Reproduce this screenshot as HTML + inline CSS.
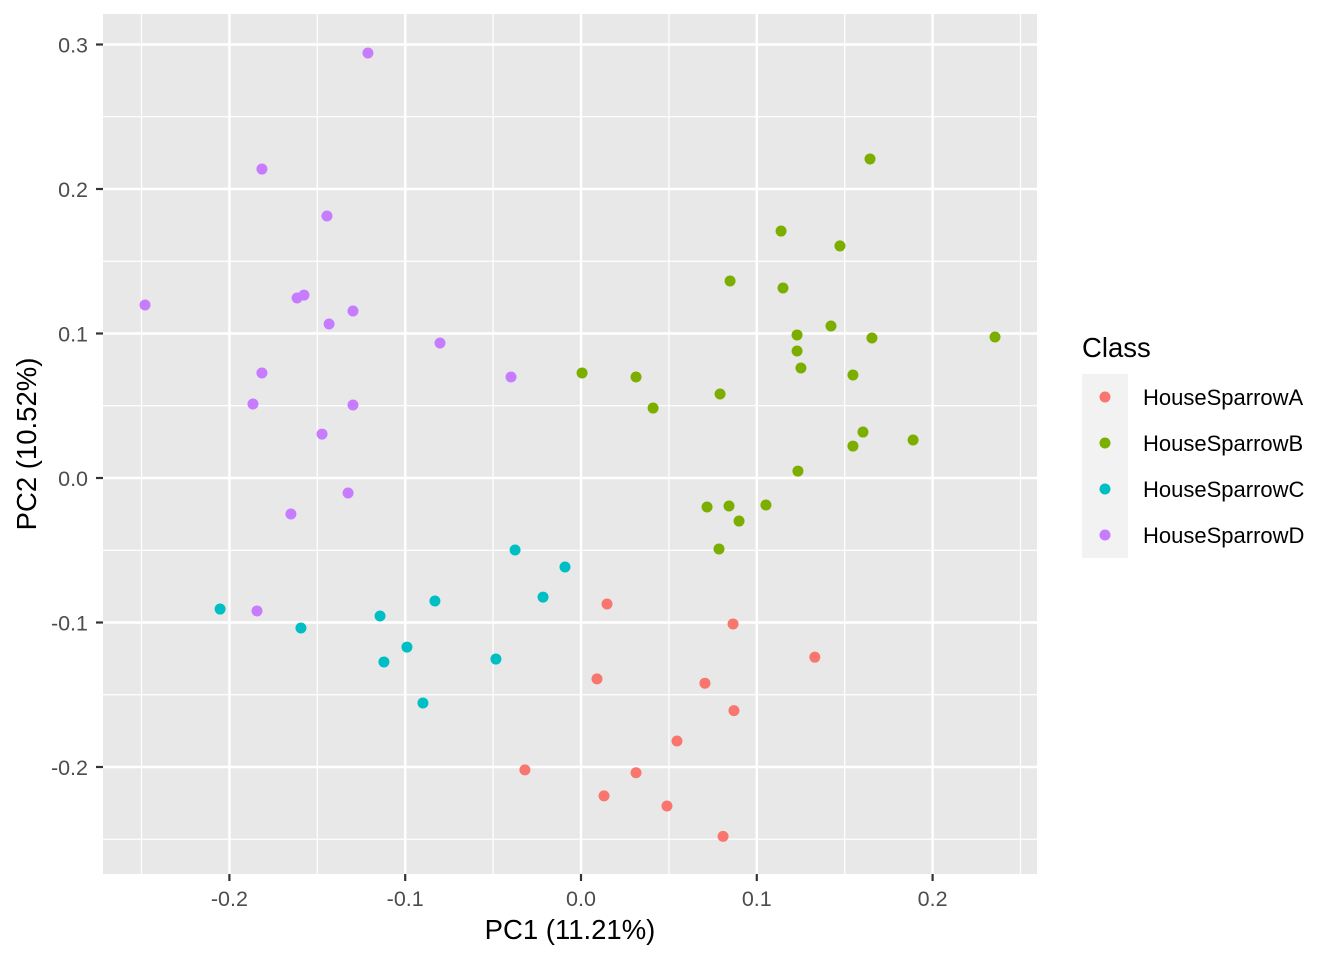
<!DOCTYPE html>
<html><head><meta charset="utf-8"><style>
body{margin:0;background:#fff;}
svg{display:block;font-family:"Liberation Sans",Arial,sans-serif;}
</style></head><body>
<svg id="chart" width="1344" height="960"></svg>
<script>
const classes=["HouseSparrowA","HouseSparrowB","HouseSparrowC","HouseSparrowD"];
const colors=["#F8766D","#7CAE00","#00BFC4","#C77CFF"];
const aX=[0.0148,0.0865,0.133,0.0091,0.0705,0.087,0.0546,-0.0319,0.0313,0.0131,0.0489,0.0808];
const aY=[-0.0872,-0.101,-0.124,-0.139,-0.142,-0.161,-0.182,-0.202,-0.204,-0.220,-0.227,-0.248];
const bX=[0.1644,0.1138,0.1473,0.0848,0.1149,0.1422,0.1229,0.1655,0.2355,0.1229,0.1251,0.0006,0.0313,0.1547,0.0791,0.041,0.1604,0.1889,0.1547,0.1234,0.0717,0.0842,0.1052,0.0899,0.0785];
const bY=[0.2208,0.1709,0.1606,0.1363,0.1315,0.1052,0.0990,0.0969,0.0976,0.0879,0.0761,0.0727,0.0699,0.0713,0.0581,0.0484,0.0318,0.0263,0.0221,0.0048,-0.0201,-0.0194,-0.0187,-0.0298,-0.0491];
const cX=[-0.0375,-0.0091,-0.0216,-0.0831,-0.2053,-0.1143,-0.1593,-0.099,-0.1121,-0.0484,-0.0899];
const cY=[-0.0498,-0.0616,-0.0824,-0.0851,-0.0907,-0.0955,-0.1038,-0.117,-0.1273,-0.1253,-0.1557];
const dX=[-0.1212,-0.1815,-0.1445,-0.248,-0.1576,-0.1615,-0.1297,-0.1433,-0.0802,-0.0398,-0.1815,-0.1866,-0.1297,-0.1473,-0.1325,-0.165,-0.1843];
const dY=[0.2941,0.2138,0.1813,0.1197,0.1266,0.1246,0.1156,0.1066,0.0934,0.0699,0.0727,0.0512,0.0505,0.0304,-0.0104,-0.0249,-0.092];
const xTicks=[-0.2,-0.1,0.0,0.1,0.2];
const xTickLabels=["-0.2","-0.1","0.0","0.1","0.2"];
const yTicks=[0.3,0.2,0.1,0.0,-0.1,-0.2];
const yTickLabels=["0.3","0.2","0.1","0.0","-0.1","-0.2"];
const xMinor=[-0.25,-0.15,-0.05,0.05,0.15,0.25];
const yMinor=[0.25,0.15,0.05,-0.05,-0.15,-0.25];

const svg=document.getElementById('chart');
const NS="http://www.w3.org/2000/svg";
const L=103,R=1037,T=14,B=874;
const sx=v=>581+v*1758;
const sy=v=>478-v*1445;
function mk(tag,attrs,parent){const e=document.createElementNS(NS,tag);for(const k in attrs)e.setAttribute(k,attrs[k]);(parent||svg).appendChild(e);return e;}

const panel=mk('rect',{x:L,y:T,width:R-L,height:B-T,fill:'#E8E8E8'});


xMinor.forEach(v=>{const l=mk('line',{x1:sx(v),x2:sx(v),y1:T,y2:B,stroke:'#fff','stroke-width':1.2});

});
yMinor.forEach(v=>{const l=mk('line',{x1:L,x2:R,y1:sy(v),y2:sy(v),stroke:'#fff','stroke-width':1.2});

});
xTicks.forEach((v,i)=>{
 const l=mk('line',{x1:sx(v),x2:sx(v),y1:T,y2:B,stroke:'#fff','stroke-width':2.4});
 
 
 const t=mk('line',{x1:sx(v),x2:sx(v),y1:B,y2:B+7,stroke:'#333','stroke-width':2.2});
 
 
 const tx=mk('text',{x:sx(v),y:906,'text-anchor':'middle','font-size':21.5,fill:'#4D4D4D'});
 tx.textContent=xTickLabels[i];
 
 
});
yTicks.forEach((v,i)=>{
 const l=mk('line',{x1:L,x2:R,y1:sy(v),y2:sy(v),stroke:'#fff','stroke-width':2.4});
 
 
 const t=mk('line',{x1:L-7,x2:L,y1:sy(v),y2:sy(v),stroke:'#333','stroke-width':2.2});
 
 
 const tx=mk('text',{x:88,y:sy(v)+8,'text-anchor':'end','font-size':21.5,fill:'#4D4D4D'});
 tx.textContent=yTickLabels[i];
 
 
});
const series=[[aX,aY],[bX,bY],[cX,cY],[dX,dY]];
series.forEach((s,k)=>{
 s[0].forEach((x,i)=>{
  const c=mk('circle',{cx:sx(x),cy:sy(s[1][i]),r:5.5,fill:colors[k]});
  
  
 });
});
const xt=mk('text',{x:570,y:939,'text-anchor':'middle','font-size':27.5,fill:'#000'});
xt.textContent='PC1 (11.21%)';


const yt=mk('text',{x:0,y:0,'text-anchor':'middle','font-size':27.5,fill:'#000',transform:'translate(36,444) rotate(-90)'});
yt.textContent='PC2 (10.52%)';


const lt=mk('text',{x:1082,y:357,'font-size':27.5,fill:'#000'});
lt.textContent='Class';


classes.forEach((c,k)=>{
 const y0=374+k*46;
 const kb=mk('rect',{x:1082,y:y0,width:46,height:46,fill:'#F2F2F2'});
 
 
 const p=mk('circle',{cx:1105,cy:y0+23,r:5.5,fill:colors[k]});
 
 
 const t=mk('text',{x:1143,y:y0+31,'font-size':22,fill:'#000'});
 t.textContent=c;
 
 
});
</script>
</body></html>
